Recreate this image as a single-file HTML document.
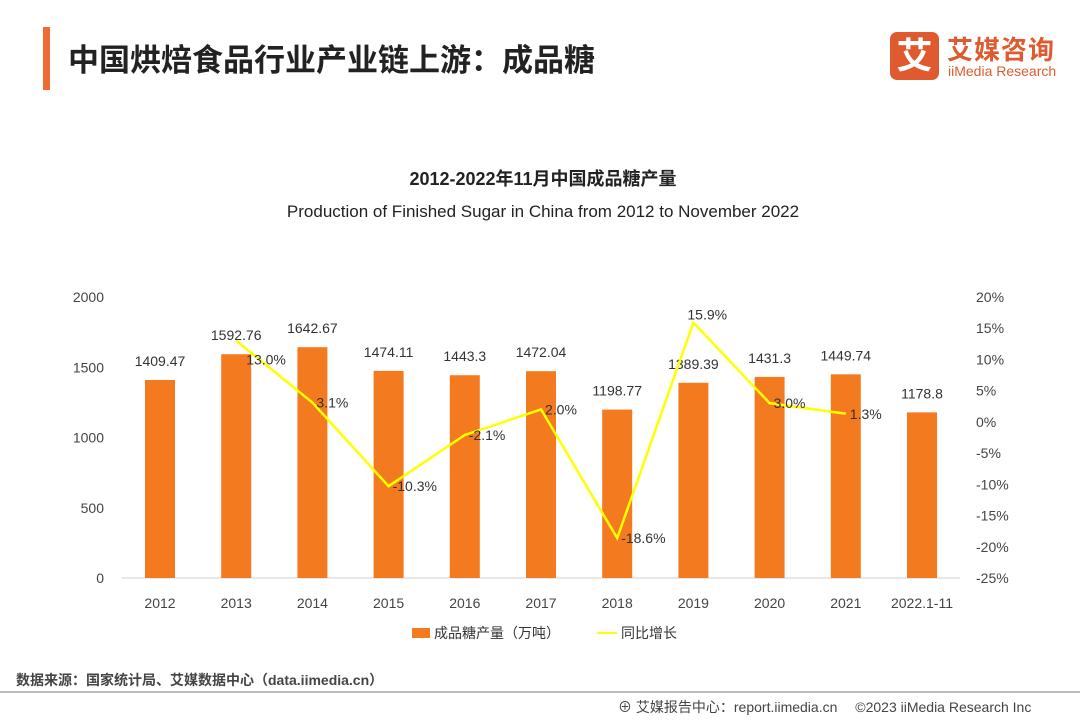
<!DOCTYPE html>
<html><head><meta charset="utf-8"><style>
body{margin:0;width:1080px;height:720px;background:#fff;font-family:"Liberation Sans","Noto Sans CJK SC",sans-serif;position:relative;overflow:hidden}
.a{position:absolute}
</style></head><body>
<div class="a" style="left:43px;top:27px;width:7px;height:63px;background:#f06a33"></div>
<div class="a" style="left:68px;top:35px;font-size:31px;font-weight:bold;color:#222">中国烘焙食品行业产业链上游：成品糖</div>
<div class="a" style="left:890px;top:32px;width:49px;height:48px;background:#e05a30;border-radius:7px;color:#fff;font-size:36px;font-weight:bold;text-align:center;line-height:48px">艾</div>
<div class="a" style="left:947px;top:30px;font-size:26px;font-weight:bold;color:#e05a30;letter-spacing:1px">艾媒咨询</div>
<div class="a" style="left:948px;top:63px;font-size:14px;color:#e05a30">iiMedia Research</div>
<svg class="a" style="left:0;top:0" width="1080" height="720" id="chart">
<text x="543" y="185" text-anchor="middle" font-size="18" font-weight="bold" fill="#222">2012-2022年11月中国成品糖产量</text>
<text x="543" y="217" text-anchor="middle" font-size="17" fill="#222">Production  of Finished Sugar in China from 2012 to November 2022</text>
<line x1="122" y1="578" x2="960" y2="578" stroke="#d0d0d0"/>
<g id="g"></g>
<rect x="412" y="628" width="18" height="10" fill="#f47a20"/>
<text x="434" y="638" font-size="14" fill="#333">成品糖产量（万吨）</text>
<line x1="597" y1="633" x2="617" y2="633" stroke="#ffff00" stroke-width="2"/>
<text x="621" y="638" font-size="14" fill="#333">同比增长</text>
<line x1="0" y1="692" x2="1080" y2="692" stroke="#777"/>
</svg>
<div class="a" style="left:16px;top:670px;font-size:14px;font-weight:bold;color:#444">数据来源：国家统计局、艾媒数据中心（data.iimedia.cn）</div>
<div class="a" style="left:618px;top:697px;font-size:14px;color:#444">⊕ 艾媒报告中心：report.iimedia.cn　 ©2023 iiMedia Research  Inc</div>
<script>
const categories=["2012","2013","2014","2015","2016","2017","2018","2019","2020","2021","2022.1-11"];
const values=[1409.47,1592.76,1642.67,1474.11,1443.3,1472.04,1198.77,1389.39,1431.3,1449.74,1178.8];
const growth=[null,13.0,3.1,-10.3,-2.1,2.0,-18.6,15.9,3.0,1.3,null];
const leftTicks=[0,500,1000,1500,2000];
const rightTicks=[20,15,10,5,0,-5,-10,-15,-20,-25];
const NS="http://www.w3.org/2000/svg",g=document.getElementById('g');
const xs=i=>160+i*76.2, yl=v=>578-v*(281/2000), yr=p=>578-(p+25)*(281/45);
function mk(t,a,txt){const e=document.createElementNS(NS,t);for(const k in a)e.setAttribute(k,a[k]);if(txt!=null)e.textContent=txt;g.appendChild(e);return e;}
leftTicks.forEach(v=>{const e=mk('text',{x:104,y:yl(v)+5,'text-anchor':'end','font-size':14,fill:'#444'},v);

});
rightTicks.forEach(v=>{const e=mk('text',{x:976,y:yr(v)+5,'font-size':14,fill:'#444'},v+'%');

});
categories.forEach((c,i)=>{
const r=mk('rect',{x:xs(i)-15,y:yl(values[i]),width:30,height:578-yl(values[i]),fill:'#f47a20'});


const t=mk('text',{x:xs(i),y:yl(values[i])-14,'text-anchor':'middle','font-size':14,fill:'#333'},values[i]);


const x=mk('text',{x:xs(i),y:608,'text-anchor':'middle','font-size':14,fill:'#444'},c);

});
let pts=[];growth.forEach((p,i)=>{if(p!=null)pts.push(xs(i)+','+yr(p));});
const pl=mk('polyline',{points:pts.join(' '),fill:'none',stroke:'#ffff00','stroke-width':2.5});


growth.forEach((p,i)=>{if(p==null)return;
let dx=4,dy=5;if(p==15.9){dx=-6;dy=-3;}if(i==1){dx=10;dy=24;}
const t=mk('text',{x:xs(i)+dx,y:yr(p)+dy,'font-size':14,fill:'#333'},p.toFixed(1)+'%');

});
</script>
</body></html>
